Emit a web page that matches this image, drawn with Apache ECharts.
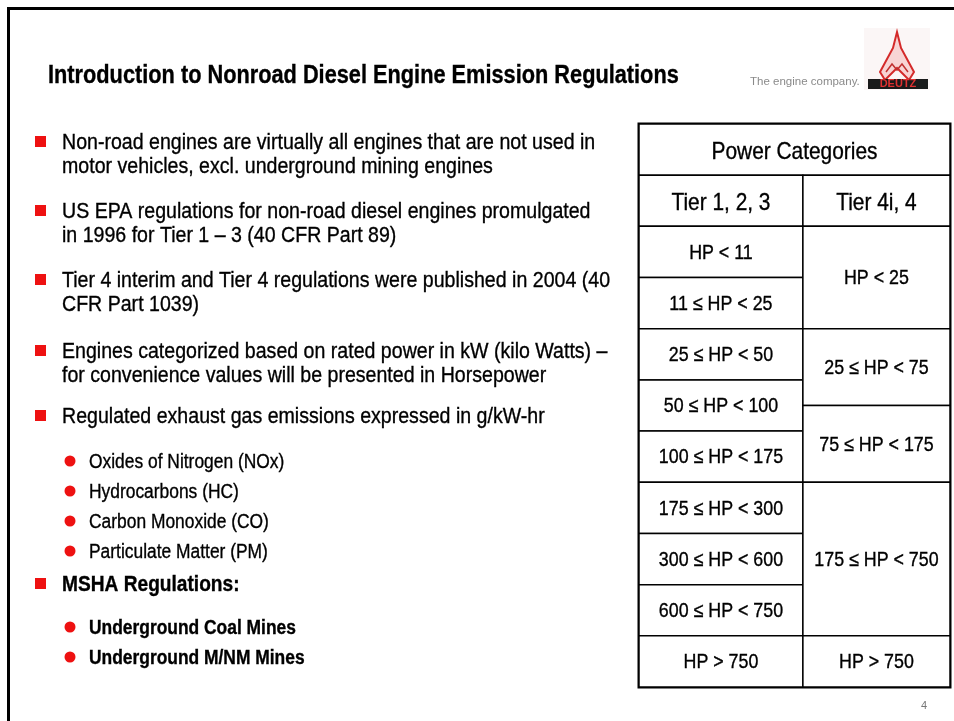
<!DOCTYPE html>
<html>
<head>
<meta charset="utf-8">
<script src="https://cdn.jsdelivr.net/npm/echarts@6/dist/echarts.min.js"></script>
<style>
  html, body { margin: 0; padding: 0; background: #fff; }
  #main { width: 954px; height: 721px; }
</style>
</head>
<body>
<div id="main"></div>
<script>
var titleText = 'Introduction to Nonroad Diesel Engine Emission Regulations';
var bullets = [
	['Non-road engines are virtually all engines that are not used in', 'motor vehicles, excl. underground mining engines'],
	['US EPA regulations for non-road diesel engines promulgated', 'in 1996 for Tier 1 \u2013 3 (40 CFR Part 89)'],
	['Tier 4 interim and Tier 4 regulations were published in 2004 (40', 'CFR Part 1039)'],
	['Engines categorized based on rated power in kW (kilo Watts) \u2013', 'for convenience values will be presented in Horsepower'],
	['Regulated exhaust gas emissions expressed in g/kW-hr']
];
var emissions = ['Oxides of Nitrogen (NOx)', 'Hydrocarbons (HC)', 'Carbon Monoxide (CO)', 'Particulate Matter (PM)'];
var mshaTitle = 'MSHA Regulations:';
var mshaItems = ['Underground Coal Mines', 'Underground M/NM Mines'];

var tableTitle = 'Power Categories';
var tierHeads = ['Tier 1, 2, 3', 'Tier 4i, 4'];
var tier123 = ['HP < 11', '11 \u2264 HP < 25', '25 \u2264 HP < 50', '50 \u2264 HP < 100', '100 \u2264 HP < 175',
	'175 \u2264 HP < 300', '300 \u2264 HP < 600', '600 \u2264 HP < 750', 'HP > 750'];
var tier4 = ['HP < 25', '25 \u2264 HP < 75', '75 \u2264 HP < 175', '175 \u2264 HP < 750', 'HP > 750'];
// how many tier 1-3 rows each tier 4 cell spans
var tier4Rows = [2, 1.5, 1.5, 3, 1];

// narrow look: arial metrics squeezed horizontally
var FONT = '"Liberation Sans", Arial, sans-serif';
var NARROW = 0.87;
var INK = '#000';
var RED = '#ee1111';
var SPLIT = 0.527;

// table cells: [x0, x1, y0, y1] in column / row units
var cells = [];
var cellText = [];
var cellSize = [];
var cellShift = [];
cells.push([0, 1, 0, 1]); cellText.push(tableTitle); cellSize.push(24); cellShift.push(3);
cells.push([0, SPLIT, 1, 2]); cellText.push(tierHeads[0]); cellSize.push(24); cellShift.push(3);
cells.push([SPLIT, 1, 1, 2]); cellText.push(tierHeads[1]); cellSize.push(24); cellShift.push(3);
for (var i = 0; i < tier123.length; i++) {
	cells.push([0, SPLIT, 2 + i, 3 + i]); cellText.push(tier123[i]); cellSize.push(20.5); cellShift.push(1);
}
var r = 2;
for (var j = 0; j < tier4.length; j++) {
	cells.push([SPLIT, 1, r, r + tier4Rows[j]]); cellText.push(tier4[j]); cellSize.push(20.5); cellShift.push(1);
	r += tier4Rows[j];
}

function txt(x, y, t, font, align) {
	return { type: 'text', x: x, y: y + 1, scaleX: NARROW,
		style: { text: t, font: font, fill: INK, stroke: INK, lineWidth: 0.35,
			align: align || 'left', verticalAlign: 'middle' } };
}

// slide text
var graphics = [];
graphics.push({ type: 'rect', shape: { x: 8.5, y: 8.5, width: 1000, height: 800 }, style: { fill: 'none', stroke: '#000', lineWidth: 3 } });
graphics.push(txt(48, 75, titleText, 'bold 25px ' + FONT));

var bulletY = [142, 211, 280, 351, 416];
bullets.forEach(function (lines, k) {
	graphics.push({ type: 'rect', shape: { x: 35, y: bulletY[k] - 6, width: 11, height: 11 }, style: { fill: RED } });
	lines.forEach(function (t, n) {
		graphics.push(txt(62, bulletY[k] + n * 24, t, '22.5px ' + FONT));
	});
});
var subY = [461, 491, 521, 551];
emissions.forEach(function (t, k) {
	graphics.push({ type: 'circle', shape: { cx: 70, cy: subY[k], r: 5.5 }, style: { fill: RED } });
	graphics.push(txt(89, subY[k], t, '20px ' + FONT));
});
graphics.push({ type: 'rect', shape: { x: 35, y: 578, width: 11, height: 11 }, style: { fill: RED } });
graphics.push(txt(62, 584, mshaTitle, 'bold 22px ' + FONT));
var mshaY = [627, 657];
mshaItems.forEach(function (t, k) {
	graphics.push({ type: 'circle', shape: { cx: 70, cy: mshaY[k], r: 5.5 }, style: { fill: RED } });
	graphics.push(txt(89, mshaY[k], t, 'bold 20px ' + FONT));
});

// logo
graphics.push({ type: 'text', x: 750, y: 82, style: { text: 'The engine company.', font: '11.5px ' + FONT, fill: '#8a8a8a', verticalAlign: 'middle' } });
graphics.push({ type: 'rect', shape: { x: 864, y: 28, width: 66, height: 62 }, style: { fill: '#fbf6f6' } });
graphics.push({ type: 'polygon', shape: { points: [[897, 32], [901, 48], [914, 72], [909, 80], [897, 68], [885, 80], [880, 72], [893, 48]] },
	style: { fill: 'rgba(238,80,80,0.2)', stroke: '#d42a2a', lineWidth: 2 } });
graphics.push({ type: 'polyline', shape: { points: [[886, 72], [892, 64], [897, 70], [902, 64], [908, 72]] },
	style: { stroke: '#c03030', lineWidth: 1.5, fill: 'none' } });
graphics.push({ type: 'rect', shape: { x: 868, y: 79, width: 60, height: 10 }, style: { fill: '#1a1a1a' } });
graphics.push({ type: 'text', x: 898, y: 84, style: { text: 'DEUTZ', font: 'bold 11px ' + FONT, fill: '#e03030', align: 'center', verticalAlign: 'middle' } });
graphics.push({ type: 'text', x: 924, y: 706, style: { text: '4', font: '11px ' + FONT, fill: '#777', align: 'center', verticalAlign: 'middle' } });

var chart = echarts.init(document.getElementById('main'));
var option = {
	animation: false,
	backgroundColor: '#fff',
	grid: { left: 639, top: 124, width: 311, height: 563, show: true, borderColor: '#000', borderWidth: 3, backgroundColor: '#fff' },
	xAxis: { type: 'value', min: 0, max: 1, show: false },
	yAxis: { type: 'value', min: 0, max: 11, inverse: true, show: false },
	graphic: graphics,
	series: [{
		type: 'custom',
		data: cells,
		z: 1,
		renderItem: function (params, api) {
			var p0 = api.coord([api.value(0), api.value(2)]);
			var p1 = api.coord([api.value(1), api.value(3)]);
			var idx = params.dataIndex;
			return {
				type: 'group',
				children: [{
					type: 'rect',
					shape: { x: p0[0], y: p0[1], width: p1[0] - p0[0], height: p1[1] - p0[1] },
					style: { fill: '#fff', stroke: '#000', lineWidth: 1.5 }
				}, {
					type: 'text',
					x: (p0[0] + p1[0]) / 2,
					y: (p0[1] + p1[1]) / 2 + cellShift[idx],
					scaleX: NARROW,
					style: { text: cellText[idx], font: cellSize[idx] + 'px ' + FONT, fill: INK, stroke: INK, lineWidth: 0.35,
						align: 'center', verticalAlign: 'middle' }
				}]
			};
		}
	}]
};
chart.setOption(option);
</script>
</body>
</html>
